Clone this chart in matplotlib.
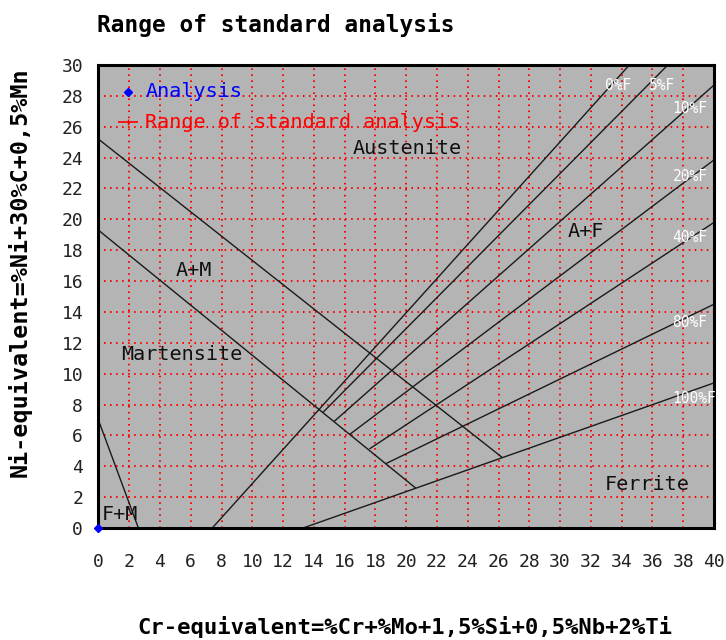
import matplotlib
matplotlib.use('Agg')
import matplotlib.pyplot as plt

plt.rcParams['font.family'] = ['DejaVu Sans Mono']

# boundary lines of the diagram (Cr-eq, Ni-eq)
austenite_x = [0, 26.2]
austenite_y = [25.2, 4.6]
martensite_x = [0, 20.6]
martensite_y = [19.3, 2.6]
fm_x = [0, 2.6]
fm_y = [7.0, 0]

# ferrite percent lines: start and end points
ferrite_names = ['0%F', '5%F', '10%F', '20%F', '40%F', '80%F', '100%F']
ferrite_x0 = [7.4, 14.6, 15.36, 16.35, 17.65, 18.7, 13.3]
ferrite_y0 = [0, 7.5, 6.94, 6.08, 5.15, 4.18, 0]
ferrite_x1 = [34.5, 37.0, 40, 40, 40, 40, 40]
ferrite_y1 = [30, 30, 28.7, 23.85, 19.8, 14.5, 9.4]

# label positions for the percent lines
ferrite_lx = [32.9, 35.8, 37.3, 37.3, 37.3, 37.3, 37.3]
ferrite_ly = [28.7, 28.7, 27.2, 22.75, 18.8, 13.3, 8.4]

regions = ['Austenite', 'A+F', 'A+M', 'Martensite', 'Ferrite', 'F+M']
region_x = [16.5, 30.5, 5.05, 1.5, 32.9, 0.25]
region_y = [24.6, 19.2, 16.7, 11.25, 2.8, 0.9]

analysis_x = [0]
analysis_y = [0]

fig = plt.figure(figsize=(7.26, 6.4), dpi=100)
ax = fig.add_axes([0.1355, 0.175, 0.848, 0.7235])
ax.set_facecolor('#b4b4b4')

lc = '#1a1a1a'
ax.plot(austenite_x, austenite_y, color=lc, lw=1)
ax.plot(martensite_x, martensite_y, color=lc, lw=1)
ax.plot(fm_x, fm_y, color=lc, lw=1)
for i in range(len(ferrite_names)):
    ax.plot([ferrite_x0[i], ferrite_x1[i]], [ferrite_y0[i], ferrite_y1[i]], color=lc, lw=1)
    ax.text(ferrite_lx[i], ferrite_ly[i], ferrite_names[i], color='white', fontsize=10.5,
            ha='left', va='center')

for name, x, y in zip(regions, region_x, region_y):
    ax.text(x, y, name, fontsize=14.5, ha='left', va='center', color='#111111')

# legend drawn inside the plot
ax.plot([1.95], [28.25], marker='D', color='blue', markersize=4, clip_on=False)
ax.text(3.05, 28.25, 'Analysis', color='blue', fontsize=14.5, ha='left', va='center')
ax.plot([1.95], [26.3], marker='_', color='red', markersize=14, mew=1.2)
ax.plot([1.95], [26.3], marker='|', color='red', markersize=5, mew=1)
ax.text(3.05, 26.3, 'Range of standard analysis', color='red', fontsize=14.5,
        ha='left', va='center')

ax.plot(analysis_x, analysis_y, marker='D', color='blue', markersize=4, ls='none',
        clip_on=False, zorder=5)

ax.set_xlim(0, 40)
ax.set_ylim(0, 30)
ax.set_xticks(range(0, 41, 2))
ax.set_yticks(range(0, 31, 2))
ax.tick_params(length=0, labelsize=13, colors='#222222')
ax.tick_params(axis='x', pad=18)
ax.tick_params(axis='y', pad=11)
ax.grid(True, color='red', linestyle=(0, (0.8, 2.3)), lw=1.4)
ax.set_axisbelow(True)
for s in ax.spines.values():
    s.set_linewidth(2.2)
    s.set_color('black')

fig.text(97 / 726, 1 - 25 / 640, 'Range of standard analysis', fontsize=16.4,
         fontweight='bold', ha='left', va='center')
fig.text(405 / 726, 1 - 634 / 640, 'Cr-equivalent=%Cr+%Mo+1,5%Si+0,5%Nb+2%Ti',
         fontsize=16, fontweight='bold', ha='center', va='baseline')
fig.text(20 / 726, 1 - 272 / 640, 'Ni-equivalent=%Ni+30%C+0,5%Mn', fontsize=16.8,
         fontweight='bold', ha='center', va='center', rotation=90)

fig.savefig('out.png', dpi=100)
